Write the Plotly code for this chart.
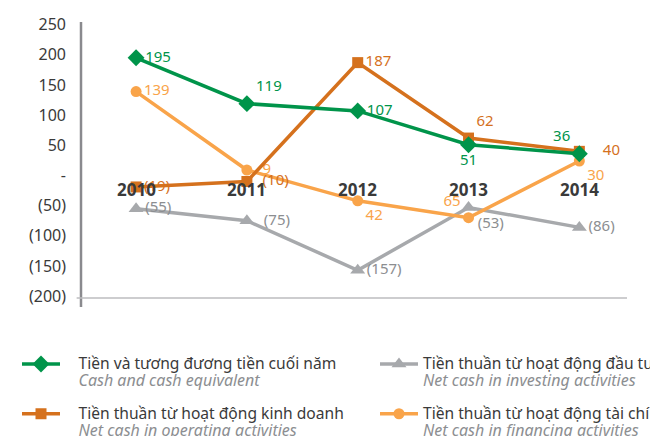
import plotly.graph_objects as go

years = ["2010", "2011", "2012", "2013", "2014"]
cash = [195, 119, 107, 51, 36]
operating = [-19, -10, 187, 62, 40]
investing = [-55, -75, -157, -53, -86]
financing = [139, 9, -42, -70, 24]

cash_lbl = ["195", "119", "107", "51", "36"]
operating_lbl = ["(19)", "(10)", "187", "62", "40"]
investing_lbl = ["(55)", "(75)", "(157)", "(53)", "(86)"]
financing_lbl = ["139", "9", "42", "65", "30"]

tick_vals = [250, 200, 150, 100, 50, 0, -50, -100, -150, -200]
tick_text = ["250", "200", "150", "100", "50", "-", "(50)", "(100)", "(150)", "(200)"]

names = {
    "cash": ("Tiền và tương đương tiền cuối năm", "Cash and cash equivalent"),
    "investing": ("Tiền thuần từ hoạt động đầu tư", "Net cash in investing activities"),
    "operating": ("Tiền thuần từ hoạt động kinh doanh", "Net cash in operating activities"),
    "financing": ("Tiền thuần từ hoạt động tài chính", "Net cash in financing activities"),
}

C_GREEN = "#00944a"
C_ORANGE = "#d5711d"
C_GRAY = "#a7a9ac"
C_LORANGE = "#f9a44a"
FONT = "Noto Sans"
PAD = "\u00a0\u00a0\u00a0\u00a0"
SP = "\u00a0\u00a0"


def nm(key, pad=""):
    vi, en = names[key]
    return (f"{pad}<span style='color:#3a3a3a;font-size:15.6px'>{vi}</span><br>"
            f"{pad}<i><span style='color:#8c8e91;font-size:16px'>{en}</span></i>")


fig = go.Figure()
fig.add_trace(go.Scatter(
    x=years, y=investing, text=investing_lbl, mode="lines+markers+text",
    name=nm("investing"), legend="legend2", legendgroup="inv",
    line=dict(color=C_GRAY, width=3.5),
    marker=dict(symbol="triangle-up", size=13, color=C_GRAY),
    textposition=["middle right", "middle right", "middle right", "bottom right", "middle right"],
    texttemplate=["%{text}", SP + "%{text}", "%{text}", "%{text}", "%{text}"],
    textfont=dict(color="#8c8e91", size=15, family=FONT),
))
fig.add_trace(go.Scatter(
    x=years, y=financing, text=financing_lbl, mode="lines+markers+text",
    name=nm("financing"), legend="legend2", legendgroup="fin",
    line=dict(color=C_LORANGE, width=3.5),
    marker=dict(symbol="circle", size=11, color=C_LORANGE),
    textposition=["middle right", "middle right", "bottom right", "top left", "bottom right"],
    texttemplate=["%{text}", SP + "%{text}", "%{text}", "%{text}", "%{text}"],
    textfont=dict(color=C_LORANGE, size=15, family=FONT),
))
fig.add_trace(go.Scatter(
    x=years, y=operating, text=operating_lbl, mode="lines+markers+text",
    name=nm("operating", PAD), legend="legend", legendgroup="op", legendrank=2,
    line=dict(color=C_ORANGE, width=3.5),
    marker=dict(symbol="square", size=11, color=C_ORANGE),
    textposition=["middle right", "middle right", "middle right", "top right", "middle right"],
    texttemplate=["%{text}", SP + "%{text}", "%{text}", "%{text}", SP + SP + "%{text}"],
    textfont=dict(color=C_ORANGE, size=15, family=FONT),
))
fig.add_trace(go.Scatter(
    x=years, y=cash, text=cash_lbl, mode="lines+markers+text",
    name=nm("cash", PAD), legend="legend", legendgroup="cash", legendrank=1,
    line=dict(color=C_GREEN, width=3.5),
    marker=dict(symbol="diamond", size=13, color=C_GREEN),
    textposition=["middle right", "top right", "middle right", "bottom center", "top left"],
    textfont=dict(color=C_GREEN, size=15, family=FONT),
))

for i, yr in enumerate(years):
    fig.add_annotation(x=i, y=-24, xref="x", yref="y", text=f"<b>{yr}</b>", showarrow=False,
                       font=dict(family=FONT, size=17, color="#3a3a3a"),
                       yanchor="middle")

# axis frame lines
fig.add_shape(type="line", xref="paper", yref="paper", x0=0, x1=0, y0=0, y1=1,
              line=dict(color="#8a8a8e", width=2.5))
fig.add_shape(type="line", xref="paper", yref="y", x0=-0.008, x1=1, y0=-203, y1=-203,
              line=dict(color="#bdbdbf", width=1.5))

leg_common = dict(orientation="v", xref="container", yref="container",
                  xanchor="left", yanchor="top", font=dict(size=13, family=FONT),
                  itemwidth=38, tracegroupgap=13, bgcolor="rgba(0,0,0,0)",
                  traceorder="grouped", valign="top")

fig.update_layout(
    width=658, height=436,
    margin=dict(l=73, r=39, t=14, b=137, autoexpand=False),
    paper_bgcolor="white", plot_bgcolor="white",
    font=dict(family=FONT, color="#3a3a3a"),
    xaxis=dict(type="category", range=[-0.497, 4.43], showgrid=False, zeroline=False,
               showline=False, showticklabels=False, ticks=""),
    yaxis=dict(range=[-217.9, 254.3], showgrid=False, zeroline=False, showline=False,
               tickvals=tick_vals, ticktext=tick_text, ticks="", ticklabelstandoff=14,
               tickfont=dict(size=16, color="#3a3a3a", family=FONT)),
    showlegend=True,
    legend=dict(x=9 / 658, y=1 - 341 / 436, **leg_common),
    legend2=dict(x=367 / 658, y=1 - 341 / 436, **leg_common),
)

fig.write_html("out.html")
